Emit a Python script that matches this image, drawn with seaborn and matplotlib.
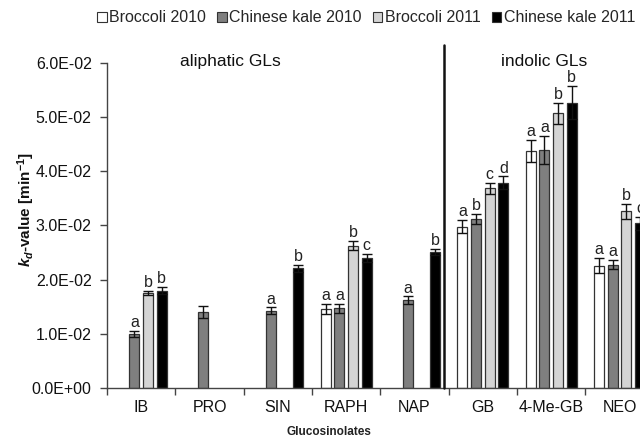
import matplotlib
matplotlib.use("Agg")
import matplotlib.pyplot as plt
from matplotlib.patches import Patch
from matplotlib.ticker import FuncFormatter, FixedLocator
import numpy as np
import pandas as pd
import seaborn as sns

glucosinolates = ["IB", "PRO", "SIN", "RAPH", "NAP", "GB", "4-Me-GB", "NEO"]
series = ["Broccoli 2010", "Chinese kale 2010", "Broccoli 2011", "Chinese kale 2011"]

# degradation rate constants kd [min^-1]; None = not detected
broccoli_2010 = [None, None, None, 0.0146, None, 0.0298, 0.0438, 0.0226]
broccoli_2010_sd = [None, None, None, 0.0010, None, 0.0012, 0.0020, 0.0014]
broccoli_2010_sig = [None, None, None, "a", None, "a", "a", "a"]

kale_2010 = [0.0100, 0.0141, 0.0143, 0.0147, 0.0162, 0.0312, 0.0440, 0.0228]
kale_2010_sd = [0.0006, 0.0011, 0.0006, 0.0008, 0.0007, 0.0009, 0.0026, 0.0009]
kale_2010_sig = ["a", None, "a", "a", "a", "b", "a", "a"]

broccoli_2011 = [0.0176, None, None, 0.0263, None, 0.0369, 0.0507, 0.0326]
broccoli_2011_sd = [0.0004, None, None, 0.0009, None, 0.0010, 0.0020, 0.0014]
broccoli_2011_sig = ["b", None, None, "b", None, "c", "b", "b"]

kale_2011 = [0.0180, None, 0.0221, 0.0240, 0.0251, 0.0379, 0.0527, 0.0304]
kale_2011_sd = [0.0007, None, 0.0007, 0.0008, 0.0006, 0.0012, 0.0031, 0.0012]
kale_2011_sig = ["b", None, "b", "c", "b", "d", "b", "c"]

colors = ["#ffffff", "#7f7f7f", "#d4d4d4", "#000000"]

rows = []
for name, vals, sds, sigs in zip(
    series,
    [broccoli_2010, kale_2010, broccoli_2011, kale_2011],
    [broccoli_2010_sd, kale_2010_sd, broccoli_2011_sd, kale_2011_sd],
    [broccoli_2010_sig, kale_2010_sig, broccoli_2011_sig, kale_2011_sig],
):
    for g, v, s, l in zip(glucosinolates, vals, sds, sigs):
        if v is not None:
            rows.append({"glucosinolate": g, "series": name, "kd": v, "sd": s, "sig": l})
df = pd.DataFrame(rows)

sns.set_theme(style="white")
plt.rcParams["font.family"] = ["Liberation Sans", "DejaVu Sans"]
plt.rcParams["mathtext.fontset"] = "custom"
plt.rcParams["mathtext.it"] = "Liberation Sans:italic:bold"
plt.rcParams["mathtext.rm"] = "Liberation Sans:bold"
plt.rcParams["mathtext.bf"] = "Liberation Sans:bold"

fig = plt.figure(figsize=(6.4, 4.38), dpi=100)
ax = fig.add_axes([107 / 640, 50 / 438, 1 - 107 / 640, 325 / 438])

sns.barplot(
    data=df, x="glucosinolate", y="kd", hue="series",
    order=glucosinolates, hue_order=series, palette=colors,
    width=0.8, gap=0.27, errorbar=None, edgecolor="#333333",
    linewidth=0.9, legend=False, ax=ax,
)

# error bars and significance letters placed on each drawn bar
for name, cont in zip(series, ax.containers):
    sub = df[df["series"] == name].set_index("glucosinolate")
    for bar in cont:
        cx = bar.get_x() + bar.get_width() / 2
        g = glucosinolates[int(round(cx))]
        row = sub.loc[g]
        ax.errorbar(cx, row["kd"], yerr=row["sd"], fmt="none", ecolor="#111111",
                    elinewidth=1.0, capsize=3.5, capthick=1.0, zorder=5)
        if row["sig"]:
            ax.annotate(row["sig"], (cx, row["kd"] + row["sd"]), xytext=(0, 0.5),
                        textcoords="offset points", ha="center", va="bottom",
                        fontsize=11.5, color="#222222")

ax.set_xlim(-0.5, 7.3)
ax.set_ylim(0, 0.06)
ax.set_yticks(np.arange(0, 0.0601, 0.01))
ax.yaxis.set_major_formatter(FuncFormatter(lambda v, p: f"{v:.1E}"))
ax.xaxis.set_minor_locator(FixedLocator(np.arange(-0.5, 8, 1.0)))
ax.tick_params(axis="x", which="major", length=0, pad=9, labelsize=11.5, labelcolor="#111111")
ax.tick_params(axis="x", which="minor", length=5, width=1, color="#444444", direction="out", bottom=True)
ax.tick_params(axis="y", length=5, width=1, color="#444444", direction="out", left=True,
               labelsize=11.5, labelcolor="#111111", pad=6)
sns.despine(ax=ax)
for sp in ("left", "bottom"):
    ax.spines[sp].set_color("#444444")
    ax.spines[sp].set_linewidth(1.0)

ax.set_xlabel("")
ax.set_ylabel(r"$k_d$-value [min$^{-1}$]", fontsize=11, fontweight="bold", color="#111111")
ax.yaxis.set_label_coords(-0.132, 0.55)
fig.text(329 / 640, 6 / 438, "Glucosinolates", ha="center", va="center",
         fontsize=8.5, fontweight="bold", color="#222222")

# divider between aliphatic and indolic glucosinolates
ax.plot([4.43, 4.43], [0, 0.0633], color="#111111", lw=1.8, clip_on=False, zorder=6)
ax.text(1.3, 0.0602, "aliphatic GLs", ha="center", va="center", fontsize=12.5, color="#111111")
ax.text(5.9, 0.0602, "indolic GLs", ha="center", va="center", fontsize=12.5, color="#111111")

handles = [Patch(facecolor=c, edgecolor="#333333", linewidth=0.8) for c in colors]
fig.legend(handles, series, loc="center", bbox_to_anchor=(366 / 640, 1 - 18 / 438), ncol=4,
           frameon=False, fontsize=11.5, handlelength=0.6, handleheight=0.6,
           handletextpad=0.15, columnspacing=0.7, borderaxespad=0)

fig.savefig("out.png", dpi=100)
